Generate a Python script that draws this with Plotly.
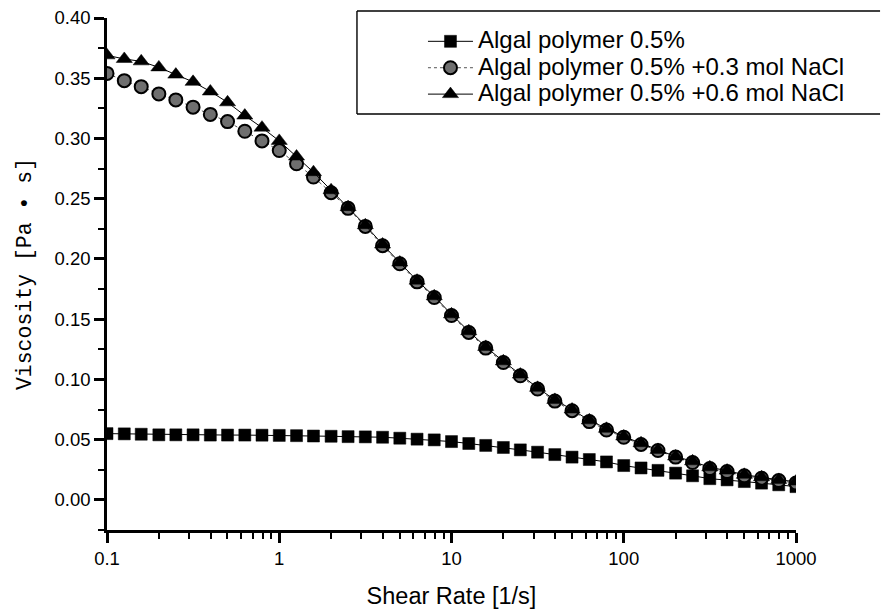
import plotly.graph_objects as go

# Shear rate sweep (1/s), 10 points per decade
shear_rate = [0.1, 0.126, 0.158, 0.2, 0.251, 0.316, 0.398, 0.501, 0.631, 0.794,
              1, 1.26, 1.58, 2, 2.51, 3.16, 3.98, 5.01, 6.31, 7.94,
              10, 12.6, 15.8, 20, 25.1, 31.6, 39.8, 50.1, 63.1, 79.4,
              100, 126, 158, 200, 251, 316, 398, 501, 631, 794, 1000]

# Viscosity (Pa·s)
visc_polymer = [0.055, 0.0548, 0.0545, 0.054, 0.054, 0.054, 0.0538, 0.0538, 0.0538, 0.0537,
                0.0535, 0.0533, 0.053, 0.0528, 0.0525, 0.0523, 0.052, 0.0512, 0.0504, 0.0498,
                0.0484, 0.0468, 0.0452, 0.0435, 0.0415, 0.0396, 0.0376, 0.0355, 0.0335, 0.0315,
                0.0285, 0.0265, 0.0245, 0.0222, 0.020, 0.0176, 0.0166, 0.0152, 0.0139, 0.0125, 0.011]
visc_nacl_03 = [0.354, 0.348, 0.343, 0.337, 0.332, 0.326, 0.320, 0.314, 0.306, 0.298,
                0.290, 0.279, 0.268, 0.255, 0.242, 0.227, 0.211, 0.196, 0.181, 0.168,
                0.153, 0.139, 0.126, 0.114, 0.103, 0.092, 0.082, 0.074, 0.065, 0.058,
                0.052, 0.046, 0.041, 0.0355, 0.031, 0.026, 0.0235, 0.020, 0.018, 0.016, 0.014]
visc_nacl_06 = [0.369, 0.366, 0.364, 0.359, 0.353, 0.347, 0.339, 0.330, 0.319, 0.309,
                0.298, 0.285, 0.272, 0.257, 0.243, 0.228, 0.212, 0.197, 0.182, 0.169,
                0.154, 0.140, 0.127, 0.115, 0.104, 0.093, 0.083, 0.075, 0.066, 0.059,
                0.0526, 0.047, 0.0415, 0.036, 0.032, 0.027, 0.0243, 0.0208, 0.0188, 0.0166, 0.0152]

series_names = ["Algal polymer 0.5%",
                "Algal polymer 0.5% +0.3 mol NaCl",
                "Algal polymer 0.5% +0.6 mol NaCl"]

x_tick_vals = [0.1, 1, 10, 100, 1000]
x_tick_text = ["0.1", "1", "10", "100", "1000"]

SANS = "Liberation Sans, Arial, sans-serif"
MONO = "Liberation Mono, Courier New, monospace"


def legend_label(text):
    return '<span style="font-size:24px">' + text + '</span>'


fig = go.Figure()

fig.add_trace(go.Scatter(
    x=shear_rate, y=visc_polymer, mode="lines+markers",
    name=legend_label(series_names[0]),
    line=dict(color="black", width=1),
    marker=dict(symbol="square", size=12, color="black",
                line=dict(color="black", width=0.5)),
))
fig.add_trace(go.Scatter(
    x=shear_rate, y=visc_nacl_03, mode="lines+markers",
    name=legend_label(series_names[1]),
    line=dict(color="#555555", width=1, dash="dot"),
    marker=dict(symbol="circle", size=13, color="#6f6f6f",
                line=dict(color="black", width=2)),
))
fig.add_trace(go.Scatter(
    x=shear_rate, y=visc_nacl_06, mode="lines+markers",
    name=legend_label(series_names[2]),
    line=dict(color="black", width=1),
    marker=dict(symbol="triangle-up", size=14, color="black",
                line=dict(color="black", width=0.5)),
))

# Open frame around the legend: top, bottom and left edges, running to the page edge
box_left, box_right, box_bottom, box_top = 0.3628, 1.122, 0.8125, 1.0137
frame = dict(color="black", width=1.4)
for x0, y0, x1, y1 in [(box_left, box_top, box_right, box_top),
                       (box_left, box_bottom, box_right, box_bottom),
                       (box_left, box_bottom, box_left, box_top)]:
    fig.add_shape(type="line", xref="paper", yref="paper",
                  x0=x0, y0=y0, x1=x1, y1=y1, line=frame, layer="above")

fig.update_layout(
    width=882, height=611,
    margin=dict(l=107, r=86, t=18, b=81),
    paper_bgcolor="white", plot_bgcolor="white",
    showlegend=True,
    legend=dict(
        x=0.4586, xanchor="left", y=0.99, yanchor="top",
        bgcolor="rgba(0,0,0,0)", borderwidth=0,
        font=dict(family=SANS, size=18, color="black"),
        itemwidth=45, tracegroupgap=0,
    ),
    font=dict(family=SANS, color="black"),
)

fig.update_xaxes(
    type="log", range=[-1, 3],
    tickmode="array", tickvals=x_tick_vals, ticktext=x_tick_text,
    ticks="outside", ticklen=10, tickwidth=2.5, tickcolor="black",
    minor=dict(ticks="outside", dtick="D1",
               ticklen=6, tickwidth=2, tickcolor="black", showgrid=False),
    showline=True, linecolor="black", linewidth=2.5,
    showgrid=False, zeroline=False, automargin=False,
    tickfont=dict(family=SANS, size=18.5, color="black"),
    title=dict(text="Shear Rate [1/s]", standoff=20,
               font=dict(family=SANS, size=23.5, color="black")),
)

fig.update_yaxes(
    range=[-0.025, 0.40],
    tickmode="linear", tick0=0, dtick=0.05, tickformat=".2f",
    ticks="outside", ticklen=10, tickwidth=2.5, tickcolor="black",
    minor=dict(dtick=0.025, ticks="outside", ticklen=6, tickwidth=2,
               tickcolor="black", showgrid=False),
    showline=True, linecolor="black", linewidth=2.5,
    showgrid=False, zeroline=False, automargin=False,
    tickfont=dict(family=SANS, size=18.5, color="black"),
    title=dict(text="Viscosity [Pa • s]", standoff=18,
               font=dict(family=MONO, size=21.5, color="black")),
)

fig.write_html("out.html")
